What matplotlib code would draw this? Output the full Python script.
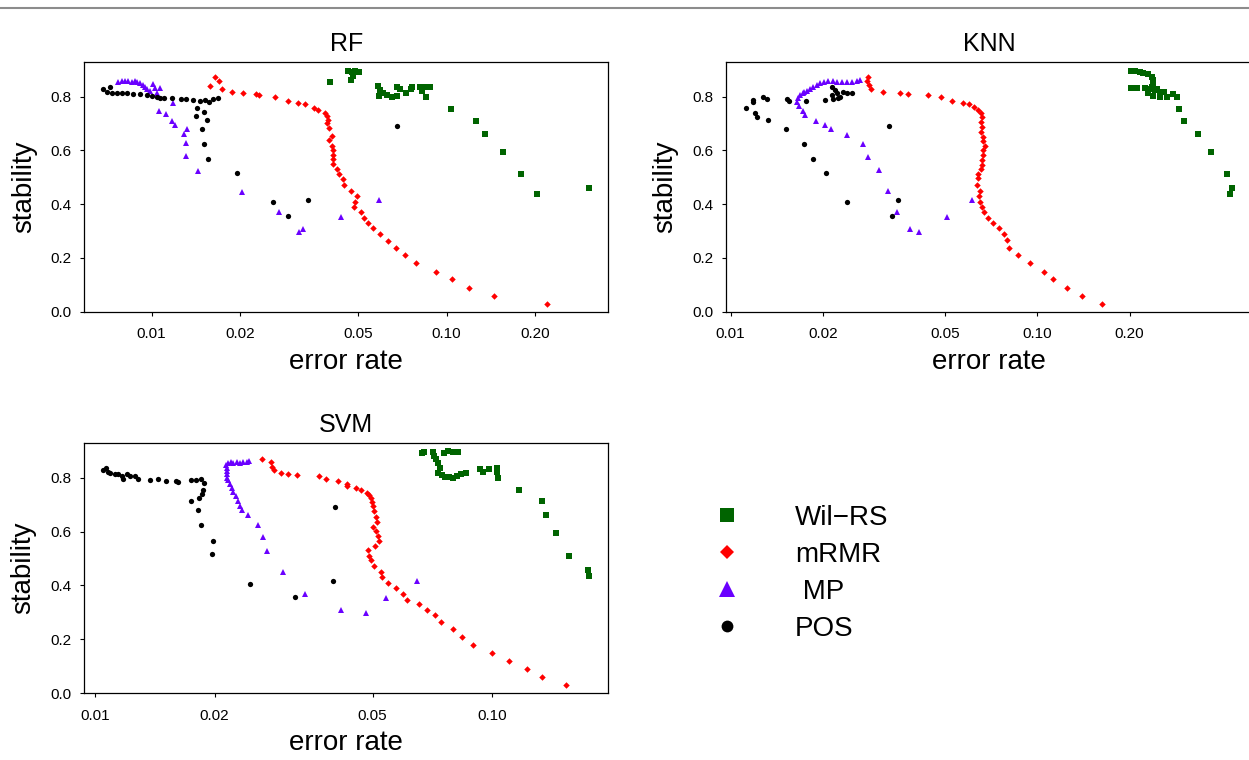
# -*- coding: utf-8 -*-
"""
Stability vs. error rate of four feature selection methods
for three classifiers (RF, KNN, SVM).
"""
import matplotlib.pyplot as plt
from matplotlib.lines import Line2D
from matplotlib.ticker import FixedLocator, FixedFormatter, NullLocator

plt.rcParams['font.family'] = ['Liberation Sans', 'DejaVu Sans']

# ---------------- RF ----------------
rf_wil_x = [0.0402, 0.0464, 0.0476, 0.0489, 0.0505, 0.0482, 0.0473, 0.0586, 0.0594, 0.0590,
            0.0610, 0.0629, 0.0651, 0.0677, 0.0677, 0.0695, 0.0728, 0.0755, 0.0761, 0.0812,
            0.0823, 0.0851, 0.0878, 0.0851, 0.1032, 0.1257, 0.1349, 0.1549, 0.1782, 0.2018, 0.3037]
rf_wil_y = [0.856, 0.897, 0.893, 0.897, 0.893, 0.877, 0.862, 0.840, 0.825, 0.803,
            0.813, 0.806, 0.800, 0.835, 0.803, 0.828, 0.815, 0.828, 0.835, 0.835,
            0.822, 0.835, 0.835, 0.800, 0.754, 0.711, 0.661, 0.595, 0.512, 0.439, 0.461]
rf_mrmr_x = [0.0158, 0.0164, 0.0169, 0.0173, 0.0187, 0.0204, 0.0226, 0.0231, 0.0262, 0.0290,
             0.0313, 0.0331, 0.0356, 0.0365, 0.0387, 0.0394, 0.0397, 0.0394, 0.0400, 0.0409,
             0.0400, 0.0407, 0.0413, 0.0413, 0.0411, 0.0413, 0.0426, 0.0432, 0.0444, 0.0450,
             0.0474, 0.0495, 0.0489, 0.0485, 0.0511, 0.0524, 0.0542, 0.0564, 0.0594, 0.0634,
             0.0671, 0.0722, 0.0785, 0.0920, 0.1045, 0.119, 0.1446, 0.219]
rf_mrmr_y = [0.841, 0.872, 0.860, 0.828, 0.816, 0.813, 0.809, 0.805, 0.798, 0.785,
             0.778, 0.772, 0.759, 0.751, 0.741, 0.728, 0.713, 0.701, 0.682, 0.655,
             0.639, 0.617, 0.602, 0.583, 0.567, 0.550, 0.530, 0.511, 0.493, 0.471,
             0.450, 0.430, 0.409, 0.391, 0.370, 0.350, 0.329, 0.310, 0.289, 0.264,
             0.238, 0.211, 0.180, 0.148, 0.121, 0.089, 0.060, 0.030]
rf_mp_x = [0.00771, 0.00791, 0.00812, 0.00833, 0.00856, 0.00878, 0.00894, 0.00913, 0.00932, 0.00949,
           0.00966, 0.00987, 0.0101, 0.0103, 0.0104, 0.0107, 0.0106, 0.0112, 0.0117, 0.0120,
           0.0118, 0.0129, 0.0132, 0.0131, 0.0131, 0.0143, 0.0202, 0.0270, 0.0316, 0.0327,
           0.0438, 0.0588]
rf_mp_y = [0.855, 0.858, 0.858, 0.857, 0.855, 0.858, 0.855, 0.850, 0.844, 0.837,
           0.828, 0.822, 0.847, 0.831, 0.813, 0.831, 0.748, 0.734, 0.710, 0.695,
           0.775, 0.661, 0.680, 0.627, 0.578, 0.525, 0.447, 0.370, 0.298, 0.308,
           0.354, 0.417]
rf_pos_x = [0.00685, 0.00704, 0.00722, 0.00732, 0.00761, 0.00791, 0.00823, 0.00866, 0.00913, 0.00966,
            0.0100, 0.0104, 0.0107, 0.0110, 0.0117, 0.0126, 0.0131, 0.0138, 0.0146, 0.0152,
            0.0156, 0.0162, 0.0168, 0.0142, 0.0150, 0.0141, 0.0154, 0.0148, 0.0150, 0.0155,
            0.0195, 0.0258, 0.0289, 0.0340, 0.0677]
rf_pos_y = [0.829, 0.819, 0.835, 0.813, 0.813, 0.813, 0.813, 0.810, 0.810, 0.805,
            0.803, 0.798, 0.794, 0.795, 0.795, 0.791, 0.792, 0.788, 0.785, 0.788,
            0.781, 0.792, 0.794, 0.757, 0.742, 0.728, 0.713, 0.680, 0.624, 0.567,
            0.517, 0.407, 0.356, 0.417, 0.691]

# ---------------- KNN ----------------
knn_wil_x = [0.2017, 0.2083, 0.2163, 0.2216, 0.2301, 0.2361, 0.2379, 0.2390, 0.2361, 0.2421,
             0.2301, 0.2379, 0.2513, 0.2513, 0.2642, 0.2589, 0.2777, 0.2849, 0.2017, 0.2110,
             0.2245, 0.2319, 0.2452, 0.2900, 0.3010, 0.3336, 0.3678, 0.4147, 0.4306, 0.4252]
knn_wil_y = [0.897, 0.897, 0.893, 0.889, 0.884, 0.874, 0.862, 0.850, 0.837, 0.825,
             0.813, 0.804, 0.816, 0.800, 0.800, 0.819, 0.809, 0.800, 0.833, 0.833,
             0.833, 0.828, 0.828, 0.754, 0.711, 0.661, 0.595, 0.512, 0.461, 0.439]
knn_mrmr_x = [0.0281, 0.0278, 0.0283, 0.0286, 0.0315, 0.0357, 0.0380, 0.0441, 0.0484, 0.0528,
              0.0571, 0.0600, 0.0622, 0.0642, 0.0654, 0.0659, 0.0655, 0.0659, 0.0654, 0.0664,
              0.0667, 0.0675, 0.0664, 0.0667, 0.0659, 0.0659, 0.0654, 0.0642, 0.0642, 0.0637,
              0.0650, 0.0647, 0.0650, 0.0662, 0.0672, 0.0692, 0.0715, 0.0752, 0.0780, 0.0795,
              0.0809, 0.0867, 0.0947, 0.1052, 0.1128, 0.1253, 0.1396, 0.1622]
knn_mrmr_y = [0.872, 0.860, 0.844, 0.828, 0.816, 0.813, 0.809, 0.806, 0.798, 0.785,
              0.778, 0.772, 0.763, 0.751, 0.738, 0.726, 0.707, 0.688, 0.670, 0.651,
              0.635, 0.618, 0.602, 0.583, 0.564, 0.546, 0.530, 0.512, 0.496, 0.470,
              0.450, 0.430, 0.409, 0.391, 0.370, 0.350, 0.329, 0.310, 0.288, 0.266,
              0.238, 0.211, 0.180, 0.148, 0.121, 0.089, 0.060, 0.030]
knn_mp_x = [0.01654, 0.01683, 0.01718, 0.01734, 0.0177, 0.01814, 0.0186, 0.01908, 0.01956, 0.02015,
            0.0208, 0.0215, 0.0222, 0.0230, 0.0239, 0.0248, 0.0258, 0.0264, 0.01642, 0.01674,
            0.01725, 0.01747, 0.01898, 0.0203, 0.0212, 0.0239, 0.0271, 0.0280, 0.0305, 0.0327,
            0.0348, 0.0384, 0.0412, 0.0506, 0.0614]
knn_mp_y = [0.794, 0.806, 0.813, 0.819, 0.821, 0.828, 0.835, 0.844, 0.850, 0.855,
            0.858, 0.860, 0.856, 0.856, 0.856, 0.856, 0.860, 0.862, 0.779, 0.765,
            0.748, 0.732, 0.710, 0.695, 0.680, 0.659, 0.625, 0.577, 0.527, 0.448,
            0.370, 0.308, 0.297, 0.354, 0.417]
knn_pos_x = [0.01122, 0.0118, 0.0118, 0.0120, 0.01216, 0.01272, 0.01311, 0.01327, 0.01511, 0.0153,
             0.01553, 0.01738, 0.01761, 0.0186, 0.0203, 0.0205, 0.02135, 0.0219, 0.02135, 0.0222,
             0.0227, 0.02244, 0.0233, 0.0239, 0.0248, 0.0215, 0.0240, 0.0328, 0.0335, 0.0350]
knn_pos_y = [0.757, 0.788, 0.779, 0.741, 0.726, 0.798, 0.791, 0.713, 0.680, 0.790,
             0.785, 0.624, 0.785, 0.567, 0.788, 0.517, 0.835, 0.825, 0.806, 0.813,
             0.800, 0.794, 0.819, 0.813, 0.813, 0.791, 0.407, 0.691, 0.356, 0.417]

# ---------------- SVM ----------------
svm_wil_x = [0.06639, 0.0673, 0.07105, 0.07145, 0.07216, 0.07313, 0.07385, 0.07313, 0.07458, 0.07603,
             0.07795, 0.07977, 0.08136, 0.08327, 0.0857, 0.07558, 0.0775, 0.07977, 0.08183, 0.0931,
             0.09459, 0.09829, 0.1026, 0.1029, 0.1035, 0.1168, 0.1336, 0.1365, 0.1447, 0.156,
             0.1739, 0.1752]
svm_wil_y = [0.893, 0.895, 0.895, 0.880, 0.868, 0.853, 0.837, 0.816, 0.809, 0.804,
             0.802, 0.800, 0.806, 0.812, 0.819, 0.893, 0.899, 0.897, 0.897, 0.831,
             0.821, 0.833, 0.837, 0.821, 0.800, 0.756, 0.712, 0.663, 0.593, 0.511,
             0.459, 0.436]
svm_mrmr_x = [0.02628, 0.02768, 0.02784, 0.02822, 0.02934, 0.03066, 0.03229, 0.03663, 0.03815, 0.04098,
              0.04301, 0.04316, 0.04531, 0.04672, 0.04829, 0.04894, 0.04942, 0.04971, 0.0500, 0.05038,
              0.05097, 0.05136, 0.05018, 0.05097, 0.05165, 0.05195, 0.05067, 0.04874, 0.04902, 0.04942,
              0.05038, 0.05246, 0.05267, 0.05471, 0.0571, 0.05947, 0.0611, 0.06541, 0.06839, 0.07176,
              0.07416, 0.07977, 0.08375, 0.08959, 0.0997, 0.1102, 0.1221, 0.1336, 0.153]
svm_mrmr_y = [0.871, 0.858, 0.841, 0.828, 0.816, 0.812, 0.810, 0.806, 0.797, 0.786,
              0.778, 0.771, 0.763, 0.754, 0.744, 0.735, 0.726, 0.709, 0.694, 0.676,
              0.655, 0.635, 0.618, 0.601, 0.583, 0.567, 0.548, 0.531, 0.511, 0.495,
              0.471, 0.450, 0.430, 0.409, 0.391, 0.369, 0.348, 0.330, 0.310, 0.289,
              0.265, 0.238, 0.209, 0.180, 0.149, 0.120, 0.090, 0.061, 0.031]
svm_mp_x = [0.02133, 0.02166, 0.02196, 0.02229, 0.02273, 0.02317, 0.02362, 0.02409, 0.02445, 0.02146,
            0.02146, 0.02153, 0.02146, 0.02166, 0.02187, 0.02209, 0.02229, 0.02264, 0.02295, 0.02317,
            0.02339, 0.02431, 0.02576, 0.02643, 0.02715, 0.02968, 0.03383, 0.04153, 0.0480, 0.0540,
            0.0647]
svm_mp_y = [0.849, 0.856, 0.858, 0.853, 0.860, 0.856, 0.858, 0.860, 0.861, 0.837,
            0.825, 0.812, 0.800, 0.791, 0.775, 0.763, 0.748, 0.732, 0.713, 0.694,
            0.679, 0.660, 0.626, 0.579, 0.527, 0.449, 0.369, 0.309, 0.298, 0.352,
            0.418]
svm_pos_x = [0.01049, 0.01066, 0.0108, 0.0109, 0.01123, 0.01144, 0.01167, 0.01178, 0.01202, 0.01225,
             0.0126, 0.01285, 0.01375, 0.01443, 0.0151, 0.0160, 0.0162, 0.0174, 0.01796, 0.01845,
             0.0188, 0.01867, 0.01856, 0.0183, 0.0174, 0.01813, 0.01848, 0.01985, 0.0197, 0.0246,
             0.0318, 0.0398, 0.0402]
svm_pos_y = [0.827, 0.835, 0.822, 0.819, 0.815, 0.812, 0.806, 0.797, 0.812, 0.806,
             0.806, 0.796, 0.791, 0.794, 0.787, 0.787, 0.785, 0.791, 0.791, 0.797,
             0.781, 0.754, 0.740, 0.726, 0.713, 0.681, 0.625, 0.567, 0.517, 0.407,
             0.356, 0.418, 0.691]

methods = ['Wil\u2212RS', 'mRMR', ' MP', 'POS']
colors = ['#006400', '#ff0000', '#6a00ff', '#000000']
markers = ['s', 'D', '^', 'o']
msizes = [4.6, 3.3, 5.0, 3.8]
legend_msizes = [10, 7, 12, 8.5]

xtick_vals = [0.01, 0.02, 0.05, 0.10, 0.20]
xtick_labels = ['0.01', '0.02', '0.05', '0.10', '0.20']
ytick_vals = [0.0, 0.2, 0.4, 0.6, 0.8]

# the KNN panel runs up to the right edge of the page, as in the original
panels = [
    ('RF', [0.0675, 0.5899, 0.4195, 0.3289], (0.00591, 0.353),
     [(rf_wil_x, rf_wil_y), (rf_mrmr_x, rf_mrmr_y), (rf_mp_x, rf_mp_y), (rf_pos_x, rf_pos_y)]),
    ('KNN', [0.5813, 0.5899, 0.4215, 0.3289], (0.00966, 0.503),
     [(knn_wil_x, knn_wil_y), (knn_mrmr_x, knn_mrmr_y), (knn_mp_x, knn_mp_y), (knn_pos_x, knn_pos_y)]),
    ('SVM', [0.0673, 0.0878, 0.4197, 0.3297], (0.00938, 0.196),
     [(svm_wil_x, svm_wil_y), (svm_mrmr_x, svm_mrmr_y), (svm_mp_x, svm_mp_y), (svm_pos_x, svm_pos_y)]),
]

fig = plt.figure(figsize=(12.49, 7.6), dpi=100)

for title, rect, xlim, series in panels:
    ax = fig.add_axes(rect)
    for (x, y), c, m, ms in zip(series, colors, markers, msizes):
        ax.plot(x, y, linestyle='', marker=m, ms=ms, color=c, mew=0)
    ax.set_xscale('log')
    ax.set_xlim(xlim)
    ax.set_ylim(0, 0.93)
    ax.xaxis.set_major_locator(FixedLocator(xtick_vals))
    ax.xaxis.set_major_formatter(FixedFormatter(xtick_labels))
    ax.xaxis.set_minor_locator(NullLocator())
    ax.set_yticks(ytick_vals)
    ax.set_yticklabels(['%.1f' % v for v in ytick_vals])
    ax.tick_params(axis='both', direction='out', length=3, width=0.8, labelsize=11)
    ax.tick_params(axis='x', pad=8)
    ax.tick_params(axis='y', pad=6)
    for sp in ax.spines.values():
        sp.set_linewidth(0.9)
    ax.set_title(title, fontsize=18, pad=8)
    ax.set_xlabel('error rate', fontsize=20, labelpad=5.5)
    ax.set_ylabel('stability', fontsize=20, labelpad=10)

# legend in the empty lower right slot
handles = [Line2D([], [], linestyle='', marker=m, color=c, ms=s, mew=0)
           for m, c, s in zip(markers, colors, legend_msizes)]
fig.legend(handles, methods, loc='center left', bbox_to_anchor=(0.5709, 0.2457),
           frameon=False, fontsize=20, handlelength=1.0, handletextpad=1.95,
           labelspacing=0.39, borderpad=0, borderaxespad=0)

# thin page rule along the top edge
fig.add_artist(Line2D([0, 1], [0.9899, 0.9899], transform=fig.transFigure,
                      color='#8c8c8c', lw=1.5))

fig.savefig('out.png', dpi=100)
